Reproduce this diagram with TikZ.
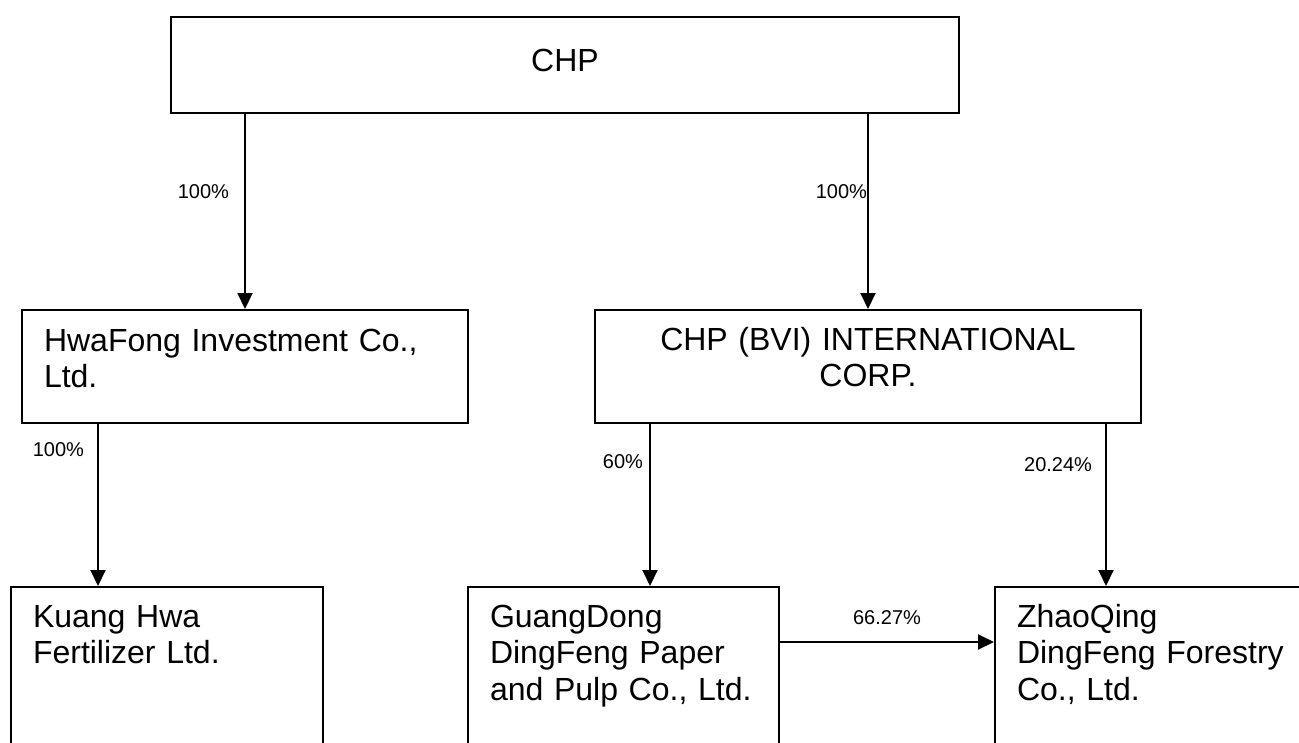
\documentclass[tikz,border=0pt]{standalone}
\usepackage{fontspec}
\setmainfont{Liberation Sans}
\usetikzlibrary{arrows.meta, positioning}

\begin{document}
\begin{tikzpicture}[x=1pt, y=-1pt,
    orgbox/.style={draw, line width=2pt, anchor=north west, inner xsep=22pt, inner ysep=0pt, text height=40pt, font=\fontsize{32}{36.5}\selectfont},
    pct/.style={font=\fontsize{20}{24}\selectfont, inner sep=0pt},
    arr/.style={-{Triangle[length=16pt, width=15pt]}, line width=2pt}]
    \useasboundingbox (0,0) rectangle (1299,742);
    \clip (0,0) rectangle (1299,742);

    % Parent
    \node[orgbox, text width=744pt, align=center, text height=54pt, text depth=42pt] (chp) at (170,16) {CHP};

    % Second level
    \node[orgbox, text width=402pt, align=left, text height=41pt, text depth=72pt] (hwafong) at (21,309) {HwaFong Investment Co.,\\Ltd.};
    \node[orgbox, text width=502pt, align=center, text depth=73pt] (bvi) at (594,309) {CHP (BVI) INTERNATIONAL\\CORP.};

    % Third level (runs off the page)
    \node[orgbox, text width=268pt, align=left, text depth=250pt] (kuang) at (10,586) {Kuang Hwa\\Fertilizer Ltd.};
    \node[orgbox, text width=267pt, align=left, text depth=250pt] (guang) at (467,586) {GuangDong\\DingFeng Paper\\and Pulp Co., Ltd.};
    \node[orgbox, text width=340pt, align=left, text depth=250pt] (zhao) at (994,586) {ZhaoQing\\DingFeng Forestry\\Co., Ltd.};

    % Holdings
    \draw[arr] (chp.south -| hwafong.north) -- (hwafong.north) node[pct, pos=0.4, left=15pt] (p1) {100\%};
    \draw[arr] (chp.south -| bvi.north) -- (bvi.north) node[pct, pos=0.4, left=0pt] (p2) {100\%};

    \coordinate (hk) at ([xshift=77pt]hwafong.south west);
    \draw[arr] (hk) -- (hk |- kuang.north) node[pct, pos=0.16, left=13pt] (p3) {100\%};

    \coordinate (bg) at ([xshift=56pt]bvi.south west);
    \draw[arr] (bg) -- (bg |- guang.north) node[pct, pos=0.23, left=6pt] (p4) {60\%};

    \coordinate (bz) at ([xshift=112pt]zhao.north west |- bvi.south);
    \draw[arr] (bz) -- (bz |- zhao.north) node[pct, pos=0.25, left=13pt] (p5) {20.24\%};

    \coordinate (gz) at ([yshift=-56pt]guang.north east);
    \draw[arr] (gz) -- (gz -| zhao.west) node[pct, midway, above=16pt] (p6) {66.27\%};
\end{tikzpicture}
\end{document}
